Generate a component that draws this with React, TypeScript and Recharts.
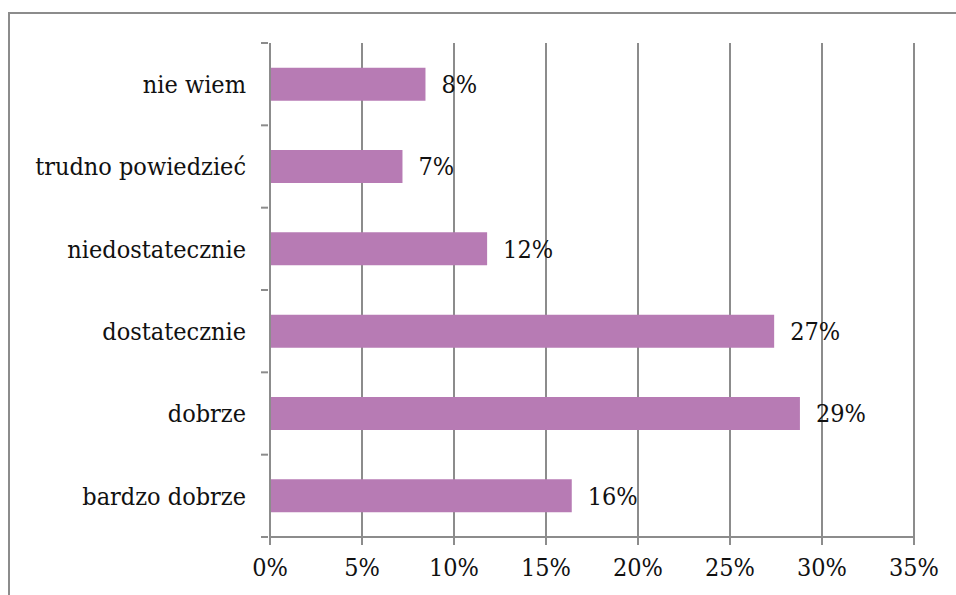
import { BarChart, Bar, XAxis, YAxis, CartesianGrid, LabelList } from 'recharts';

const categories = ['nie wiem', 'trudno powiedzieć', 'niedostatecznie', 'dostatecznie', 'dobrze', 'bardzo dobrze'];
const shares = [8.45, 7.2, 11.8, 27.4, 28.8, 16.4];
const xTicks = [0, 5, 10, 15, 20, 25, 30, 35];

const data = categories.map((name, i) => ({ name, value: shares[i] }));

const FONT = '"DejaVu Serif Condensed", "DejaVu Serif", serif';
const LINE = '#8c8c8c';
const TEXT = { fontSize: 25, fontFamily: FONT, fontStretch: 'condensed', fill: '#111' };

function CategoryTick(props: any) {
  const { x, y, payload, index, visibleTicksCount } = props;
  const half = payload?.offset ?? 41;
  const axisX = x + 7;
  return (
    <g>
      <line x1={axisX - 7} x2={axisX} y1={y - half} y2={y - half} stroke={LINE} strokeWidth={2} />
      {index === visibleTicksCount - 1 && (
        <line x1={axisX - 7} x2={axisX} y1={y + half} y2={y + half} stroke={LINE} strokeWidth={2} />
      )}
      <text x={axisX - 22} y={y} dy="0.35em" textAnchor="end" style={TEXT as any}>
        {payload.value}
      </text>
    </g>
  );
}

export default function App() {
  return (
    <div style={{ position: 'absolute', left: 0, top: 0, width: 956, height: 595, overflow: 'hidden', background: '#fff' }}>
      <div
        style={{
          position: 'absolute',
          left: 8,
          top: 12,
          width: 980,
          height: 620,
          border: `2px solid ${LINE}`,
        }}
      />
      <div style={{ position: 'absolute', left: 0, top: 0 }}>
        <BarChart
          layout="vertical"
          width={956}
          height={595}
          data={data}
          margin={{ top: 43, right: 42, bottom: 8, left: 10 }}
          barCategoryGap="30%"
        >
          <CartesianGrid horizontal={false} stroke={LINE} strokeWidth={2} />
          <XAxis
            type="number"
            domain={[0, 35]}
            ticks={xTicks}
            interval={0}
            tickFormatter={(v) => `${v}%`}
            height={50}
            stroke={LINE}
            strokeWidth={2}
            tickSize={8}
            tickMargin={13}
            tick={TEXT as any}
          />
          <YAxis
            type="category"
            dataKey="name"
            width={260}
            stroke={LINE}
            strokeWidth={2}
            tickLine={false}
            tickSize={7}
            interval={0}
            tick={<CategoryTick />}
          />
          <Bar dataKey="value" fill="#B77BB4" isAnimationActive={false}>
            <LabelList
              dataKey="value"
              position="right"
              offset={16}
              formatter={(v: any) => `${Math.round(Number(v))}%`}
              style={TEXT as any}
            />
          </Bar>
        </BarChart>
      </div>
    </div>
  );
}
